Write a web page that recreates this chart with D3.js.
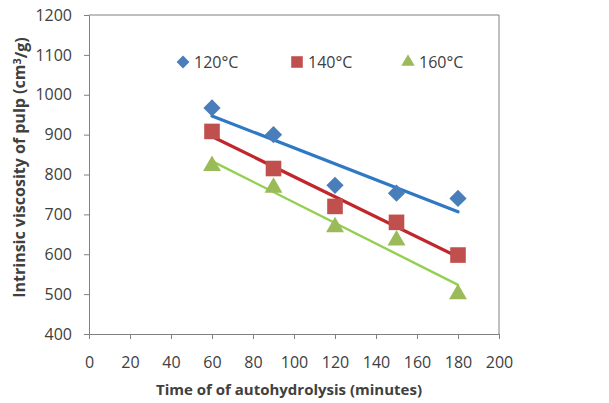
<!DOCTYPE html>
<html>
<head>
<meta charset="utf-8">
<script src="https://cdn.jsdelivr.net/npm/d3@7"></script>
<style>
  body { margin: 0; background: #fff; }
  .axis text { font-family: "Open Sans", sans-serif; font-size: 16px; fill: #404040; }
  .axis path, .axis line { stroke: #808080; }
</style>
</head>
<body>
<svg class="plot" width="609" height="403"></svg>
<script>
// data
var times = [60, 90, 120, 150, 180];
var temps = ["120°C", "140°C", "160°C"];
var visc120 = [967, 900, 773, 753, 740];
var visc140 = [908, 815, 720, 680, 598];
var visc160 = [822, 767, 668, 635, 500];
var xTicks = [0, 20, 40, 60, 80, 100, 120, 140, 160, 180, 200];
var yTicks = [400, 500, 600, 700, 800, 900, 1000, 1100, 1200];

var series = [
  {name: temps[0], values: visc120, marker: "#4a7ebb", line: "#2f78c4", shape: d3.symbolDiamond2, size: 190, width: 3.2},
  {name: temps[1], values: visc140, marker: "#c0504d", line: "#c0262b", shape: d3.symbolSquare2, size: 310, width: 3.2},
  {name: temps[2], values: visc160, marker: "#9bbb59", line: "#92d050", shape: d3.symbolTriangle2, size: 230, width: 2.4}
];

var svg = d3.select(".plot"),
    margin = {top: 15, right: 110, bottom: 69, left: 89},
    width = +svg.attr("width") - margin.left - margin.right,
    height = +svg.attr("height") - margin.top - margin.bottom;

var x = d3.scaleLinear().domain([0, 200]).range([0, width]),
    y = d3.scaleLinear().domain([400, 1200]).range([height, 0]);

var g = svg.append("g")
    .attr("transform", "translate(" + margin.left + "," + margin.top + ")");

//frame (top and right)
g.append("path")
    .attr("d", "M0,0H" + width + "V" + height)
    .attr("fill", "none")
    .attr("stroke", "#808080");

//axes
g.append("g")
    .attr("class", "axis axis--x")
    .attr("transform", "translate(0," + height + ")")
    .call(d3.axisBottom(x).tickValues(xTicks).tickFormat(d3.format("d"))
      .tickSize(5).tickSizeOuter(0).tickPadding(18));

g.append("g")
    .attr("class", "axis axis--y")
    .call(d3.axisLeft(y).tickValues(yTicks).tickFormat(d3.format("d"))
      .tickSize(5).tickSizeOuter(0).tickPadding(12));

//axis titles
g.append("text")
    .attr("x", width / 2 - 5)
    .attr("y", height + 61)
    .style("font-family", "'Open Sans', sans-serif")
    .style("font-size", "15px")
    .style("font-weight", "bold")
    .style("fill", "#404040")
    .style("text-anchor", "middle")
    .text("Time of of autohydrolysis (minutes)");

var yt = g.append("text")
    .attr("transform", "translate(" + (-64) + "," + (height / 2 - 7) + ") rotate(-90)")
    .style("font-family", "'Open Sans', sans-serif")
    .style("font-size", "16px")
    .style("font-weight", "bold")
    .style("fill", "#404040")
    .style("text-anchor", "middle");
yt.append("tspan").text("Intrinsic viscosity of pulp (cm");
yt.append("tspan").attr("dy", "-0.4em").style("font-size", "11px").text("3");
yt.append("tspan").attr("dy", "0.4em").text("/g)");

//linear trend lines fitted to each series
function fit(xs, ys) {
  var mx = d3.mean(xs), my = d3.mean(ys);
  var num = d3.sum(xs, function(d, i) { return (d - mx) * (ys[i] - my); });
  var den = d3.sum(xs, function(d) { return (d - mx) * (d - mx); });
  var b = num / den;
  return function(t) { return my + b * (t - mx); };
}

series.forEach(function(s) {
  var f = fit(times, s.values);
  var ends = d3.extent(times);
  g.append("line")
      .attr("x1", x(ends[0])).attr("y1", y(f(ends[0])))
      .attr("x2", x(ends[1])).attr("y2", y(f(ends[1])))
      .attr("stroke", s.line)
      .attr("stroke-width", s.width)
      .attr("stroke-linecap", "round");
});

//markers
series.forEach(function(s) {
  g.selectAll(".pt")
      .data(s.values)
      .enter().append("path")
      .attr("transform", function(d, i) { return "translate(" + x(times[i]) + "," + y(d) + ")"; })
      .attr("d", d3.symbol().type(s.shape).size(s.size))
      .attr("fill", s.marker);
});

//legend
var legX = [183, 297, 408];
series.forEach(function(s, i) {
  var lg = svg.append("g").attr("transform", "translate(" + legX[i] + ",62)");
  lg.append("path")
      .attr("d", d3.symbol().type(s.shape).size(s.size * 0.55))
      .attr("fill", s.marker);
  lg.append("text")
      .attr("x", 11)
      .attr("y", 5.5)
      .style("font-family", "'Open Sans', sans-serif")
      .style("font-size", "16px")
      .style("fill", "#404040")
      .text(s.name);
});
</script>
</body>
</html>
